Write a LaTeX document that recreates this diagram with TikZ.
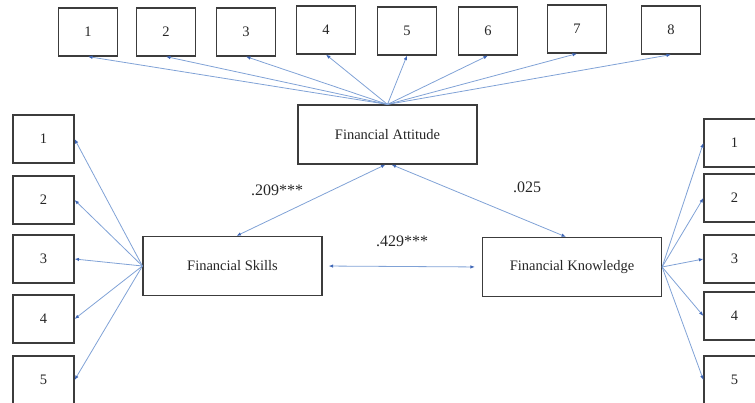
\documentclass[tikz,border=0pt]{standalone}
\usepackage{fontspec}
\setmainfont{Liberation Serif}
\usepackage{tikz}
\usetikzlibrary{arrows.meta, positioning, calc}
\usepackage{xcolor}

\definecolor{lineblue}{RGB}{128,162,214}
\definecolor{tipblue}{RGB}{62,102,182}
\definecolor{boxgray}{RGB}{60,60,60}

\begin{document}
\begin{tikzpicture}[
    x=1pt, y=-1pt,
    every node/.style = {align=center, text=black!85},
    itembox/.style   = {draw=boxgray, line width=1.2pt, minimum width=59pt,
                        minimum height=48pt, inner sep=0pt,
                        font=\fontsize{14.5}{16}\selectfont},
    factorbox/.style = {draw=boxgray, line width=1.2pt, minimum width=179pt,
                        minimum height=59pt, inner sep=0pt,
                        font=\fontsize{14.5}{16}\selectfont},
    arr/.style       = {-{Latex[length=4.5pt,width=3.5pt,color=tipblue]},
                        draw=lineblue, line width=0.8pt},
    dbl/.style       = {{Latex[length=4.5pt,width=3.5pt,color=tipblue]}-{Latex[length=4.5pt,width=3.5pt,color=tipblue]},
                        draw=lineblue, line width=0.8pt},
    coef/.style      = {font=\fontsize{16}{18}\selectfont, inner sep=0pt},
]
\useasboundingbox (0,0) rectangle (755,403);
\clip (0,0) rectangle (755,403);

%% Factors
\node[factorbox] (att) at (387.5, 134.5) {Financial Attitude};
\node[factorbox] (ski) at (232.5, 266)   {Financial Skills};
\node[factorbox] (kno) at (572,   267)   {Financial Knowledge};

%% Attitude items
\node[itembox] (a1) at (88,  32) {1};
\node[itembox] (a2) at (166, 32) {2};
\node[itembox] (a3) at (246, 32) {3};
\node[itembox] (a4) at (326, 30) {4};
\node[itembox] (a5) at (407, 31) {5};
\node[itembox] (a6) at (488, 31) {6};
\node[itembox] (a7) at (577, 29) {7};
\node[itembox] (a8) at (671, 30) {8};

%% Skills items
\node[itembox, minimum width=61pt] (s1) at (43.5, 139) {1};
\node[itembox, minimum width=61pt] (s2) at (43.5, 200) {2};
\node[itembox, minimum width=61pt] (s3) at (43.5, 259) {3};
\node[itembox, minimum width=61pt] (s4) at (43.5, 319) {4};
\node[itembox, minimum width=61pt] (s5) at (43.5, 380) {5};

%% Knowledge items
\node[itembox, minimum width=61pt] (k1) at (734.5, 143) {1};
\node[itembox, minimum width=61pt] (k2) at (734.5, 198) {2};
\node[itembox, minimum width=61pt] (k3) at (734.5, 259) {3};
\node[itembox, minimum width=61pt] (k4) at (734.5, 316) {4};
\node[itembox, minimum width=61pt] (k5) at (734.5, 380) {5};

%% Loadings: attitude
\draw[arr] (att.north) -- (a1.south);
\draw[arr] (att.north) -- (a2.south);
\draw[arr] (att.north) -- (a3.south);
\draw[arr] (att.north) -- (a4.south);
\draw[arr] (att.north) -- (a5.south);
\draw[arr] (att.north) -- (a6.south);
\draw[arr] (att.north) -- (a7.south);
\draw[arr] (att.north) -- (a8.south);

%% Loadings: skills
\draw[arr] (ski.west) -- (s1.east);
\draw[arr] (ski.west) -- (s2.east);
\draw[arr] (ski.west) -- (s3.east);
\draw[arr] (ski.west) -- (s4.east);
\draw[arr] (ski.west) -- (s5.east);

%% Loadings: knowledge
\draw[arr] (kno.east) -- (k1.west);
\draw[arr] (kno.east) -- (k2.west);
\draw[arr] (kno.east) -- (k3.west);
\draw[arr] (kno.east) -- (k4.west);
\draw[arr] (kno.east) -- (k5.west);

%% Correlations
\draw[dbl] ([xshift=-2pt]att.south) -- ([xshift=4pt]ski.north);
\draw[dbl] ([xshift=4pt]att.south) -- ([xshift=-6pt]kno.north);
\draw[dbl, shorten <=6pt, shorten >=7pt] (ski.east) -- (kno.west);

\node[coef] (c1) at (277, 190) {.209***};
\node[coef] (c2) at (527, 187) {.025};
\node[coef] (c3) at (402, 241) {.429***};

\end{tikzpicture}
\end{document}
